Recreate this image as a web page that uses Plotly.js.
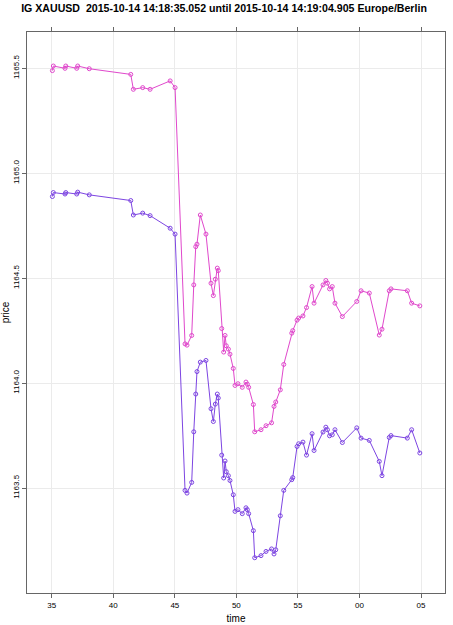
<!DOCTYPE html>
<html>
<head>
<meta charset="utf-8">
<script src="https://cdn.plot.ly/plotly-3.0.1.min.js"></script>
<style>html,body{margin:0;padding:0;background:#fff;}#chart{width:453px;height:625px;}</style>
</head>
<body>
<div id="chart"></div>
<script>
// seconds after 14:18:00
var times = [35.052,35.13,36.08,36.14,37.03,37.11,38.05,41.42,41.63,42.39,42.99,44.62,45.02,
  45.83,45.99,46.37,46.54,46.70,46.80,47.07,47.53,47.94,48.13,48.29,48.45,48.53,48.81,48.97,49.08,
  49.18,49.35,49.48,49.75,49.89,50.13,50.48,50.78,50.89,51.00,51.38,51.49,52.00,52.41,52.86,53.06,
  53.20,53.57,53.85,54.50,54.58,54.93,55.06,55.41,55.70,56.15,56.31,57.04,57.27,57.40,57.57,57.79,
  58.01,58.61,59.78,60.13,60.80,61.61,61.83,62.42,62.56,63.89,64.24,64.905];
var ask = [1165.489,1165.511,1165.500,1165.511,1165.500,1165.511,1165.498,1165.471,1165.400,1165.408,1165.400,1165.440,1165.408,
  1164.187,1164.181,1164.227,1164.468,1164.650,1164.662,1164.801,1164.710,1164.476,1164.417,1164.495,1164.548,1164.536,1164.260,1164.148,1164.227,
  1164.178,1164.162,1164.138,1164.070,1163.989,1163.997,1163.980,1164.005,1163.995,1163.980,1163.898,1163.768,1163.778,1163.797,1163.811,1163.889,
  1163.910,1163.968,1164.089,1164.238,1164.250,1164.300,1164.310,1164.320,1164.360,1164.460,1164.381,1164.468,1164.489,1164.476,1164.449,1164.460,
  1164.381,1164.317,1164.389,1164.440,1164.429,1164.229,1164.257,1164.440,1164.449,1164.440,1164.381,1164.368];
var bid = [1164.889,1164.908,1164.901,1164.908,1164.901,1164.910,1164.897,1164.870,1164.801,1164.810,1164.798,1164.738,1164.710,
  1163.489,1163.476,1163.527,1163.768,1163.948,1164.055,1164.100,1164.108,1163.878,1163.817,1163.900,1163.948,1163.929,1163.657,1163.548,1163.629,
  1163.578,1163.559,1163.536,1163.468,1163.389,1163.397,1163.378,1163.406,1163.397,1163.378,1163.297,1163.168,1163.178,1163.198,1163.210,1163.186,
  1163.206,1163.368,1163.489,1163.540,1163.550,1163.698,1163.711,1163.719,1163.657,1163.759,1163.679,1163.767,1163.790,1163.778,1163.749,1163.754,
  1163.778,1163.717,1163.787,1163.738,1163.727,1163.627,1163.559,1163.741,1163.750,1163.738,1163.778,1163.667];
var xTickVals = [35,40,45,50,55,60,65];
var xTickText = ["35","40","45","50","55","00","05"];
var yTickVals = [1163.5,1164.0,1164.5,1165.0,1165.5];
var yTickText = ["1163.5","1164.0","1164.5","1165.0","1165.5"];

var FONT = "Liberation Sans, Arial, Helvetica, sans-serif";
var traces = [
  {x: times, y: ask, type: 'scatter', mode: 'lines+markers', name: 'ask',
   line: {color: '#e048cc', width: 1},
   marker: {symbol: 'circle-open', size: 4, color: '#e048cc', line: {width: 1, color: '#e048cc'}}},
  {x: times, y: bid, type: 'scatter', mode: 'lines+markers', name: 'bid',
   line: {color: '#7d45e2', width: 1},
   marker: {symbol: 'circle-open', size: 4, color: '#7d45e2', line: {width: 1, color: '#7d45e2'}}}
];
var layout = {
  width: 453, height: 625,
  margin: {l: 27, r: 8, t: 32, b: 32, pad: 0},
  paper_bgcolor: '#fff', plot_bgcolor: '#fff',
  showlegend: false,
  font: {family: FONT, color: '#000', size: 8},
  title: {text: '<b>IG XAUUSD  2015-10-14 14:18:35.052 until 2015-10-14 14:19:04.905 Europe/Berlin</b>',
          font: {family: FONT, size: 10.6, color: '#000'}, x: 0.4945, xref: 'container', xanchor: 'center',
          y: 1, yref: 'container', yanchor: 'top', pad: {t: 5}},
  xaxis: {
    range: [32.99, 66.95], tickvals: xTickVals, ticktext: xTickText,
    ticks: 'outside', ticklen: 4, tickcolor: '#666', tickwidth: 1,
    showline: true, linecolor: '#666', linewidth: 1, mirror: 'ticks',
    showgrid: true, gridcolor: '#ebebeb', gridwidth: 1, zeroline: false,
    tickfont: {family: FONT, size: 8, color: '#000'},
    title: {text: 'time', font: {family: FONT, size: 10, color: '#000'}, standoff: 6}
  },
  yaxis: {
    range: [1163.0, 1165.673], tickvals: yTickVals, ticktext: yTickText,
    ticks: 'outside', ticklen: 4, tickcolor: '#666', tickwidth: 1, tickangle: -90,
    showline: true, linecolor: '#666', linewidth: 1, mirror: true,
    showgrid: true, gridcolor: '#ebebeb', gridwidth: 1, zeroline: false,
    tickfont: {family: FONT, size: 8, color: '#000'},
    title: {text: 'price', font: {family: FONT, size: 10, color: '#000'}, standoff: 2}
  }
};
Plotly.newPlot('chart', traces, layout, {displayModeBar: false, staticPlot: true});
</script>
</body>
</html>
